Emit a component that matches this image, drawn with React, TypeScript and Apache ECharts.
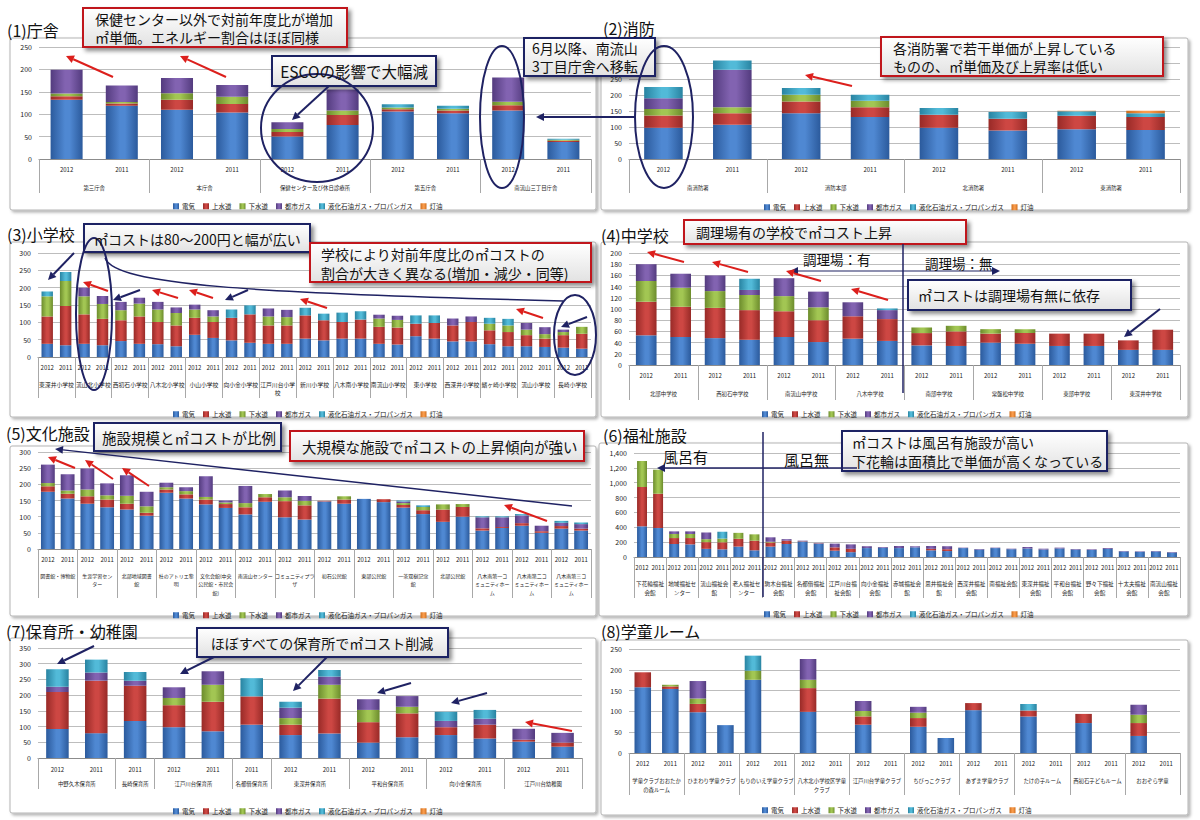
import { useEffect, useRef } from "react";
import * as echarts from "echarts";

const FONT = '"Noto Sans CJK JP", "Noto Sans", sans-serif';
const SERIES_NAMES = ["電気", "上水道", "下水道", "都市ガス", "液化石油ガス・プロパンガス", "灯油"];
const YEAR_PAIR = ["2012", "2011"];

// (1) 庁舎
const p1Groups = ["第三庁舎", "本庁舎", "保健センター及び休日診療所", "第五庁舎", "南流山三丁目庁舎"];
const p1Elec = [132, 119, 110, 104, 50, 76, 106, 102, 108, 38];
const p1Water = [8, 5, 22, 19, 10, 22, 5, 6, 12, 3];
const p1Sewer = [6, 3, 15, 16, 7, 10, 4, 4, 8, 2];
const p1Gas = [53, 37, 34, 26, 15, 47, 0, 0, 54, 0];
const p1Lpg = [0, 0, 0, 0, 0, 0, 7, 7, 0, 2];
const p1Kero = [0, 0, 0, 0, 0, 0, 0, 0, 0, 0];

// (2) 消防
const p2Groups = ["南消防署", "消防本部", "北消防署", "東消防署"];
const p2Elec = [98, 107, 143, 131, 98, 89, 93, 91];
const p2Water = [38, 36, 37, 31, 40, 37, 42, 40];
const p2Sewer = [20, 19, 21, 20, 0, 0, 0, 0];
const p2Gas = [34, 117, 0, 0, 0, 0, 0, 0];
const p2Lpg = [35, 29, 21, 19, 21, 21, 14, 12];
const p2Kero = [0, 0, 0, 0, 0, 0, 2, 8];

// (3) 小学校
const p3Groups = [
  "東深井小学校", "流山北小学校", "西初石小学校", "八木北小学校", "小山小学校",
  "向小金小学校", "江戸川台小学\n校", "新川小学校", "八木南小学校", "南流山小学校",
  "東小学校", "西深井小学校", "鰭ヶ崎小学校", "流山小学校", "長崎小学校",
];
const p3Elec = [38, 34, 38, 34, 46, 38, 37, 31, 64, 55, 48, 41, 38, 38, 53, 48, 53, 53, 38, 36, 60, 53, 45, 45, 37, 31, 31, 29, 27, 24];
const p3Water = [79, 113, 85, 76, 60, 79, 64, 60, 49, 46, 65, 82, 53, 53, 67, 58, 48, 55, 49, 49, 36, 45, 46, 56, 40, 41, 32, 24, 36, 43];
const p3Sewer = [58, 72, 52, 43, 29, 37, 36, 36, 24, 16, 0, 0, 26, 24, 0, 0, 0, 0, 24, 22, 0, 0, 0, 0, 19, 19, 16, 13, 9, 20];
const p3Gas = [0, 0, 25, 23, 24, 17, 22, 16, 14, 18, 0, 0, 23, 21, 0, 0, 0, 0, 11, 12, 0, 0, 20, 16, 0, 0, 19, 20, 7, 0];
const p3Lpg = [14, 26, 0, 0, 0, 0, 0, 0, 0, 0, 24, 26, 0, 0, 22, 19, 27, 24, 0, 0, 24, 22, 0, 0, 17, 19, 0, 0, 0, 0];
const p3Kero = p3Elec.map(() => 0);

// (4) 中学校
const p4Groups = ["北部中学校", "西初石中学校", "南流山中学校", "八木中学校", "南部中学校", "常盤松中学校", "東部中学校", "東深井中学校"];
const p4Elec = [53, 50, 48, 45, 50, 41, 47, 43, 35, 34, 40, 38, 34, 34, 27, 27];
const p4Water = [60, 54, 54, 53, 46, 39, 40, 39, 22, 26, 16, 19, 22, 22, 17, 36];
const p4Sewer = [37, 34, 30, 27, 27, 23, 0, 0, 10, 10, 8, 7, 0, 0, 0, 0];
const p4Gas = [30, 25, 28, 9, 32, 28, 25, 16, 0, 0, 0, 0, 0, 0, 0, 0];
const p4Lpg = [0, 0, 0, 20, 0, 0, 0, 3, 0, 0, 0, 0, 0, 0, 0, 0];
const p4Kero = p4Elec.map(() => 0);

// (5) 文化施設
const p5Groups = [
  "図書館・博物館", "生涯学習セン\nター", "北部地域図書\n館", "杜のアトリエ黎\n明",
  "文化会館(中央\n公民館・市民会\n館)", "南流山センター", "コミュニティプラ\nザ", "初石公民館",
  "東部公民館", "一茶双樹記念\n館", "北部公民館", "八木南第一コ\nミュニティホー\nム",
  "八木南第二コ\nミュニティホー\nム", "八木南第三コ\nミュニティホー\nム",
];
const p5Elec = [177, 156, 140, 129, 122, 103, 174, 156, 138, 127, 107, 146, 98, 91, 147, 140, 155, 145, 128, 108, 84, 100, 57, 65, 72, 50, 63, 57];
const p5Water = [17, 15, 23, 24, 18, 9, 10, 13, 15, 12, 22, 14, 50, 44, 2, 13, 0, 9, 8, 12, 38, 30, 7, 3, 8, 5, 8, 6];
const p5Sewer = [10, 10, 21, 13, 25, 20, 7, 10, 8, 5, 13, 10, 12, 14, 0, 10, 0, 0, 6, 10, 16, 9, 0, 0, 0, 0, 0, 0];
const p5Gas = [57, 50, 65, 37, 63, 45, 14, 12, 64, 6, 53, 0, 21, 15, 0, 0, 0, 0, 5, 0, 0, 0, 34, 30, 24, 17, 10, 14];
const p5Lpg = [0, 0, 0, 0, 0, 0, 0, 0, 0, 0, 0, 0, 0, 0, 0, 0, 0, 0, 3, 5, 0, 0, 3, 3, 4, 0, 6, 5];
const p5Kero = p5Elec.map(() => 0);

// (6) 福祉施設
const p6Groups = [
  "下花輪福祉\n会館", "地域福祉セ\nンター", "流山福祉会\n館", "老人福祉セ\nンター", "駒木台福祉\n会館",
  "名都借福祉\n会館", "江戸川台福\n祉会館", "向小金福祉\n会館", "赤城福祉会\n館", "思井福祉会\n館",
  "西深井福祉\n会館", "南福祉会館", "東深井福祉\n会館", "平和台福祉\n会館", "野々下福祉\n会館",
  "十太夫福祉\n会館", "南流山福祉\n会館",
];
const p6Elec = [413, 390, 175, 170, 110, 103, 140, 90, 140, 175, 210, 180, 85, 65, 120, 125, 120, 130, 90, 80, 120, 100, 120, 105, 115, 100, 115, 100, 95, 110, 75, 70, 75, 60];
const p6Water = [529, 462, 80, 85, 90, 95, 105, 130, 55, 45, 5, 5, 45, 45, 0, 0, 0, 0, 20, 25, 0, 0, 0, 0, 0, 0, 0, 0, 0, 0, 0, 0, 0, 0];
const p6Sewer = [350, 323, 55, 55, 40, 50, 80, 85, 10, 0, 0, 0, 0, 0, 0, 0, 0, 0, 0, 0, 0, 0, 0, 0, 0, 0, 0, 0, 0, 0, 0, 0, 0, 0];
const p6Gas = [0, 0, 35, 35, 90, 0, 0, 0, 60, 20, 5, 5, 50, 60, 25, 10, 28, 14, 38, 40, 6, 8, 6, 7, 20, 12, 11, 8, 8, 11, 6, 6, 6, 7];
const p6Lpg = [0, 0, 0, 0, 0, 92, 0, 0, 0, 0, 0, 0, 0, 0, 0, 0, 0, 0, 0, 0, 0, 0, 0, 0, 0, 0, 0, 0, 0, 0, 0, 0, 0, 0];
const p6Kero = p6Elec.map(() => 0);

// (7) 保育所・幼稚園
const p7Groups = ["中野久木保育所", "長崎保育所", "江戸川台保育所", "名都借保育所", "東深井保育所", "平和台保育所", "向小金保育所", "江戸川台幼稚園"];
const p7GroupSizes = [2, 1, 2, 1, 2, 2, 2, 2];
const p7Years = ["2012", "2011", "2011", "2012", "2011", "2011", "2012", "2011", "2012", "2011", "2012", "2011", "2012", "2011"];
const p7Elec = [92, 79, 118, 98, 85, 106, 73, 78, 49, 66, 73, 62, 52, 36];
const p7Water = [118, 167, 112, 70, 94, 90, 33, 111, 65, 76, 25, 44, 6, 13];
const p7Sewer = [0, 0, 0, 23, 54, 0, 21, 44, 39, 21, 0, 0, 0, 0];
const p7Gas = [17, 26, 16, 34, 43, 0, 33, 26, 34, 34, 20, 19, 35, 31];
const p7Lpg = [55, 41, 28, 0, 0, 58, 19, 21, 0, 0, 29, 28, 0, 0];
const p7Kero = p7Elec.map(() => 0);

// (8) 学童ルーム
const p8Groups = [
  "学童クラブおおたか\nの森ルーム", "ひまわり学童クラブ", "もりのいえ学童クラブ", "八木北小学校区学童\nクラブ",
  "江戸川台学童クラブ", "ちびっこクラブ", "あずま学童クラブ", "たけの子ルーム", "西初石子どもルーム", "おおぞら学童",
];
const p8Elec = [158, 154, 98, 67, 176, 0, 99, 0, 68, 0, 63, 36, 103, 0, 88, 0, 72, 0, 41, 0];
const p8Water = [36, 6, 20, 0, 0, 0, 57, 0, 20, 0, 21, 0, 17, 0, 14, 0, 22, 0, 31, 0];
const p8Sewer = [0, 4, 13, 0, 22, 0, 20, 0, 13, 0, 13, 0, 0, 0, 0, 0, 0, 0, 20, 0];
const p8Gas = [0, 0, 42, 0, 0, 0, 50, 0, 24, 0, 14, 0, 0, 0, 0, 0, 0, 0, 24, 0];
const p8Lpg = [0, 0, 0, 0, 36, 0, 0, 0, 0, 0, 0, 0, 0, 0, 16, 0, 0, 0, 0, 0];
const p8Kero = p8Elec.map(() => 0);

const BAR_COLORS = [
  ["#2b5a9c", "#4f88d2"],
  ["#982a27", "#cd4743"],
  ["#6c8c2c", "#a2c653"],
  ["#533b7e", "#8263b1"],
  ["#2883a1", "#52bad8"],
  ["#cc6c1b", "#f99b4b"],
];

type Panel = {
  groups: string[];
  sizes?: number[];
  years?: string[];
  values: number[][];
  grid: { left: number; top: number; width: number; height: number };
  max: number;
  interval: number;
  barWidth: string;
  yearMargin: number;
  groupMargin: number;
  groupFont: number;
  tickLen: number;
  legend: { left: number; top: number };
  thousands?: boolean;
  hideAbove?: number;
};

const panels: Panel[] = [
  { groups: p1Groups, values: [p1Elec, p1Water, p1Sewer, p1Gas, p1Lpg, p1Kero], grid: { left: 39, top: 47, width: 552, height: 112 }, max: 250, interval: 50, barWidth: "58%", yearMargin: 7, groupMargin: 25, groupFont: 5.4, tickLen: 34, legend: { left: 168, top: 198 } },
  { groups: p2Groups, values: [p2Elec, p2Water, p2Sewer, p2Gas, p2Lpg, p2Kero], grid: { left: 629, top: 47, width: 551, height: 112 }, max: 350, interval: 50, barWidth: "56%", yearMargin: 7, groupMargin: 25, groupFont: 5.4, tickLen: 34, legend: { left: 759, top: 199 }, hideAbove: 250 },
  { groups: p3Groups, values: [p3Elec, p3Water, p3Sewer, p3Gas, p3Lpg, p3Kero], grid: { left: 38, top: 253, width: 553, height: 104 }, max: 300, interval: 50, barWidth: "62%", yearMargin: 7, groupMargin: 23, groupFont: 5.8, tickLen: 41, legend: { left: 168, top: 406 } },
  { groups: p4Groups, values: [p4Elec, p4Water, p4Sewer, p4Gas, p4Lpg, p4Kero], grid: { left: 629, top: 253, width: 551, height: 112 }, max: 200, interval: 20, barWidth: "60%", yearMargin: 7, groupMargin: 25, groupFont: 5.4, tickLen: 35, legend: { left: 757, top: 406 } },
  { groups: p5Groups, values: [p5Elec, p5Water, p5Sewer, p5Gas, p5Lpg, p5Kero], grid: { left: 38, top: 452, width: 553, height: 97 }, max: 300, interval: 50, barWidth: "70%", yearMargin: 7, groupMargin: 22, groupFont: 5, tickLen: 49, legend: { left: 168, top: 607 } },
  { groups: p6Groups, values: [p6Elec, p6Water, p6Sewer, p6Gas, p6Lpg, p6Kero], grid: { left: 634, top: 453, width: 546, height: 104 }, max: 1400, interval: 200, barWidth: "62%", yearMargin: 7, groupMargin: 23, groupFont: 5.6, tickLen: 41, legend: { left: 759, top: 606 }, thousands: true },
  { groups: p7Groups, sizes: p7GroupSizes, years: p7Years, values: [p7Elec, p7Water, p7Sewer, p7Gas, p7Lpg, p7Kero], grid: { left: 38, top: 648, width: 544, height: 110 }, max: 350, interval: 50, barWidth: "58%", yearMargin: 8, groupMargin: 22, groupFont: 5.4, tickLen: 31, legend: { left: 168, top: 803 } },
  { groups: p8Groups, values: [p8Elec, p8Water, p8Sewer, p8Gas, p8Lpg, p8Kero], grid: { left: 629, top: 649, width: 551, height: 104 }, max: 250, interval: 50, barWidth: "60%", yearMargin: 7, groupMargin: 24, groupFont: 5.4, tickLen: 42, legend: { left: 757, top: 802 } },
];

const NAVY = "#1f2263";
const RED = "#dc1f1c";
const RED_BORDER = "#c0151b";

const barFill = (k: number) =>
  new echarts.graphic.LinearGradient(0, 0, 1, 0, [
    { offset: 0, color: BAR_COLORS[k][0] },
    { offset: 0.45, color: BAR_COLORS[k][1] },
    { offset: 0.6, color: BAR_COLORS[k][1] },
    { offset: 1, color: BAR_COLORS[k][0] },
  ]);

const txt = (x: number, y: number, text: string, size: number, align = "left") => ({
  type: "text",
  x,
  y,
  z: 120,
  style: {
    text,
    fontSize: size,
    lineHeight: size,
    fontFamily: FONT,
    fill: "#111",
    align,
    verticalAlign: "middle",
    textAlign: align,
    textVerticalAlign: "middle",
  },
});

const box = (x: number, y: number, w: number, h: number) => ({
  type: "rect",
  z: -10,
  shape: { x, y, width: w, height: h, r: 2 },
  style: { fill: "#fff", stroke: "#b4b4b4", lineWidth: 1, shadowBlur: 3, shadowOffsetX: 2, shadowOffsetY: 2, shadowColor: "rgba(0,0,0,0.3)" },
});

const callout = (x: number, y: number, w: number, h: number, border: string) => ({
  type: "rect",
  z: 110,
  shape: { x, y, width: w, height: h },
  style: {
    fill: { type: "linear", x: 0, y: 0, x2: 0, y2: 1, colorStops: [{ offset: 0, color: "#ffffff" }, { offset: 1, color: "#e2e2e2" }] },
    stroke: border,
    lineWidth: 2,
    shadowBlur: 4,
    shadowOffsetX: 3,
    shadowOffsetY: 3,
    shadowColor: "rgba(0,0,0,0.45)",
  },
});

const arrow = (x1: number, y1: number, x2: number, y2: number, color: string, w = 2) => {
  const len = Math.hypot(x2 - x1, y2 - y1);
  const ux = (x2 - x1) / len;
  const uy = (y2 - y1) / len;
  const hl = 8;
  const hw = 4;
  const bx = x2 - ux * hl;
  const by = y2 - uy * hl;
  return [
    { type: "line", z: 115, shape: { x1, y1, x2: bx, y2: by }, style: { stroke: color, lineWidth: w } },
    { type: "polygon", z: 115, shape: { points: [[x2, y2], [bx - uy * hw, by + ux * hw], [bx + uy * hw, by - ux * hw]] }, style: { fill: color } },
  ];
};

const ellipse = (cx: number, cy: number, rx: number, ry: number) => ({
  type: "ellipse",
  z: 115,
  shape: { cx, cy, rx, ry },
  style: { fill: "none", stroke: NAVY, lineWidth: 2 },
});

const vline = (x: number, y1: number, y2: number) => ({
  type: "line",
  z: 115,
  shape: { x1: x, y1, x2: x, y2 },
  style: { stroke: NAVY, lineWidth: 1.5 },
});

function buildOption() {
  const grid: any[] = [];
  const xAxis: any[] = [];
  const yAxis: any[] = [];
  const series: any[] = [];
  const legend: any[] = [];

  panels.forEach((p, i) => {
    const sizes = p.sizes ?? p.groups.map(() => 2);
    const years = p.years ?? p.groups.flatMap(() => YEAR_PAIR);
    const n = years.length;
    const centers = new Map<number, string>();
    const bounds = new Set<number>();
    let s = 0;
    sizes.forEach((k, gi) => {
      bounds.add(2 * s);
      centers.set(2 * s + k, p.groups[gi]);
      s += k;
    });
    bounds.add(2 * n);

    grid.push({ ...p.grid, containLabel: false });
    xAxis.push({
      type: "category",
      gridIndex: i,
      data: years,
      axisTick: { show: false },
      axisLine: { lineStyle: { color: "#8c8c8c" } },
      axisLabel: { interval: 0, fontSize: 6, margin: p.yearMargin, color: "#222" },
    });
    xAxis.push({
      type: "category",
      gridIndex: i,
      position: "bottom",
      boundaryGap: false,
      data: Array.from({ length: 2 * n + 1 }, (_, j) => String(j)),
      axisLine: { show: false },
      axisTick: { show: true, length: p.tickLen, interval: (j: number) => bounds.has(j), lineStyle: { color: "#a8a8a8" } },
      axisLabel: {
        interval: 0,
        margin: p.groupMargin,
        fontSize: p.groupFont,
        lineHeight: 8.5,
        color: "#222",
        formatter: (v: string) => centers.get(Number(v)) ?? "",
      },
      splitLine: { show: false },
    });
    yAxis.push({
      type: "value",
      gridIndex: i,
      min: 0,
      max: p.max,
      interval: p.interval,
      axisLine: { show: false },
      axisTick: { show: false },
      splitLine: { lineStyle: { color: "#bdbdbd" } },
      axisLabel: {
        fontSize: 7,
        color: "#222",
        margin: 7,
        formatter: (v: number) => {
          if (p.hideAbove !== undefined && v > p.hideAbove) return "";
          return p.thousands ? v.toLocaleString("en-US") : String(v);
        },
      },
    });
    p.values.forEach((vals, k) => {
      series.push({
        type: "bar",
        name: SERIES_NAMES[k],
        stack: "s" + i,
        xAxisIndex: 2 * i,
        yAxisIndex: i,
        data: vals,
        barWidth: p.barWidth,
        itemStyle: { color: barFill(k) },
      });
    });
    legend.push({
      data: SERIES_NAMES,
      left: p.legend.left,
      top: p.legend.top,
      icon: "rect",
      itemWidth: 6,
      itemHeight: 6,
      itemGap: 8,
      selectedMode: false,
      textStyle: { fontSize: 6.5, color: "#222", fontFamily: FONT, padding: [0, 0, 0, -2] },
    });
  });

  const elements: any[] = [
    // chart boxes
    box(10, 38, 586, 172),
    box(601, 38, 587, 172),
    box(10, 242, 586, 175),
    box(601, 242, 587, 175),
    box(10, 446, 586, 170),
    box(599, 443, 589, 173),
    box(10, 638, 586, 175),
    box(601, 640, 587, 175),
    // titles
    txt(7, 30, "(1)庁舎", 16),
    txt(603, 28, "(2)消防", 16),
    txt(7, 234, "(3)小学校", 16),
    txt(601, 235, "(4)中学校", 16),
    txt(6, 433, "(5)文化施設", 16),
    txt(603, 435, "(6)福祉施設", 16),
    txt(6, 631, "(7)保育所・幼稚園", 16),
    txt(601, 631, "(8)学童ルーム", 16),

    // (1)
    callout(83, 8, 264, 39, RED_BORDER),
    txt(95, 18.5, "保健センター以外で対前年度比が増加", 14),
    txt(95, 36.5, "㎡単価。エネルギー割合はほぼ同様", 14),
    ...arrow(113, 77, 66, 56, RED),
    ...arrow(226, 77, 180, 56, RED),
    ellipse(317, 128, 56, 54),
    callout(272, 56, 164, 30, NAVY),
    txt(354, 71, "ESCOの影響で大幅減", 15.5, "center"),
    ...arrow(329, 86, 292, 120, NAVY),
    ellipse(502, 117, 22, 71),
    callout(524, 38, 131, 38, NAVY),
    txt(532, 48, "6月以降、南流山", 14),
    txt(532, 66, "3丁目庁舎へ移転", 14),
    ...arrow(636, 117, 536, 117, NAVY),
    // (2)
    ellipse(664, 117, 29, 71),
    callout(881, 37, 282, 39, RED_BORDER),
    txt(893, 47.5, "各消防署で若干単価が上昇している", 14),
    txt(893, 65.5, "ものの、㎡単価及び上昇率は低い", 14),
    ...arrow(852, 86, 805, 75, RED),

    // (3)
    ellipse(94, 314, 18, 76),
    ellipse(575, 335, 21, 40),
    {
      type: "bezierCurve",
      z: 115,
      shape: { x1: 105, y1: 258, cpx1: 115, cpy1: 285, cpx2: 250, cpy2: 293, x2: 563, y2: 301 },
      style: { stroke: NAVY, lineWidth: 1.5, fill: "none" },
    },
    callout(84, 224, 226, 28, NAVY),
    txt(94, 239, "㎡コストは80～200円と幅が広い", 14),
    callout(310, 243, 281, 39, RED_BORDER),
    txt(321, 254, "学校により対前年度比の㎡コストの", 14),
    txt(321, 272.5, "割合が大きく異なる(増加・減少・同等)", 14),
    ...arrow(74, 253, 48, 280, NAVY),
    ...arrow(140, 290, 113, 300, NAVY),
    ...arrow(248, 290, 225, 300, NAVY),
    ...arrow(587, 317, 561, 327, NAVY),
    ...arrow(108, 291, 83, 282, RED),
    ...arrow(178, 298, 152, 290, RED),
    ...arrow(213, 298, 189, 290, RED),
    ...arrow(327, 308, 300, 299, RED),
    ...arrow(543, 318, 516, 309, RED),

    // (4)
    callout(684, 220, 282, 24, RED_BORDER),
    txt(696, 232, "調理場有の学校で㎡コスト上昇", 14),
    vline(903, 244, 393),
    txt(803, 259, "調理場：有", 13.5),
    txt(925, 263, "調理場：無", 13.5),
    ...arrow(895, 271, 1000, 271, NAVY, 1.2),
    ...arrow(895, 271, 790, 271, NAVY, 1.2),
    callout(908, 280, 223, 30, NAVY),
    txt(918, 295, "㎡コストは調理場有無に依存", 14),
    ...arrow(1160, 309, 1124, 337, NAVY),
    ...arrow(684, 262, 647, 252, RED),
    ...arrow(748, 272, 712, 262, RED),
    ...arrow(821, 281, 786, 271, RED),
    ...arrow(888, 300, 851, 289, RED),

    // (5)
    callout(94, 423, 187, 28, NAVY),
    txt(102, 437, "施設規模と㎡コストが比例", 14.5),
    callout(290, 431, 294, 30, RED_BORDER),
    txt(302, 446, "大規模な施設で㎡コストの上昇傾向が強い", 14.5),
    ...arrow(572, 506, 55, 449, NAVY, 1.5),
    ...arrow(75, 468, 48, 457, RED),
    ...arrow(113, 479, 85, 460, RED),
    ...arrow(149, 486, 122, 468, RED),
    ...arrow(547, 521, 504, 505, RED),

    // (6)
    vline(763, 432, 597),
    ...arrow(857, 468, 657, 468, NAVY, 1.5),
    txt(663, 456, "風呂有", 15),
    txt(784, 459, "風呂無", 15),
    callout(842, 431, 265, 40, NAVY),
    txt(852, 442, "㎡コストは風呂有施設が高い", 14),
    txt(852, 460.5, "下花輪は面積比で単価が高くなっている", 14),

    // (7)
    callout(197, 628, 251, 29, NAVY),
    txt(322, 643, "ほぼすべての保育所で㎡コスト削減", 14, "center"),
    ...arrow(94, 646, 57, 664, NAVY),
    ...arrow(214, 657, 180, 674, NAVY),
    ...arrow(327, 657, 293, 691, NAVY),
    ...arrow(411, 683, 377, 693, NAVY),
    ...arrow(487, 693, 451, 703, NAVY),
    ...arrow(572, 731, 525, 722, RED),
  ];

  return {
    animation: false,
    backgroundColor: "#ffffff",
    textStyle: { fontFamily: FONT },
    grid,
    xAxis,
    yAxis,
    series,
    legend,
    graphic: { elements },
  };
}

export default function App() {
  const ref = useRef<HTMLDivElement | null>(null);

  useEffect(() => {
    if (!ref.current) return;
    const chart = echarts.init(ref.current, null, { renderer: "svg" });
    chart.setOption(buildOption());
    return () => {
      chart.dispose();
    };
  }, []);

  return (
    <div
      ref={ref}
      style={{ position: "fixed", left: 0, top: 0, width: 1200, height: 820, background: "#fff" }}
    />
  );
}
